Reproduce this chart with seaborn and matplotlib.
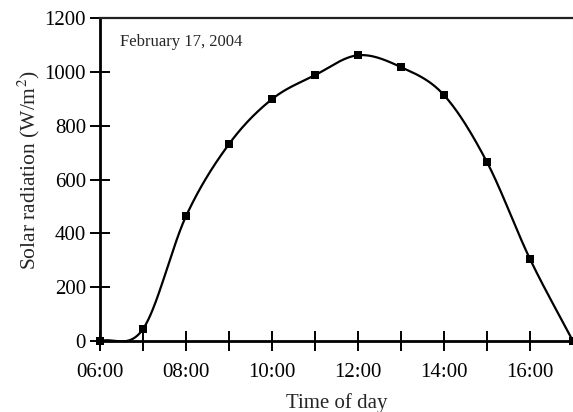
import numpy as np
import pandas as pd
import matplotlib
matplotlib.use("Agg")
import matplotlib.pyplot as plt
import seaborn as sns

# Data
hours = [6, 7, 8, 9, 10, 11, 12, 13, 14, 15, 16, 17]
radiation = [0, 45, 464, 732, 899, 988, 1062, 1018, 914, 665, 305, 0]
tick_hours = [6, 8, 10, 12, 14, 16]
tick_labels = ["06:00", "08:00", "10:00", "12:00", "14:00", "16:00"]

sns.set_theme(style="ticks")
plt.rcParams['font.family'] = ['Liberation Serif', 'DejaVu Serif']
plt.rcParams['mathtext.fontset'] = 'stix'


def smooth_curve(x, y, n=40):
    """Catmull-Rom style smoothing (like a spreadsheet 'smoothed line')."""
    x = np.asarray(x, float)
    y = np.asarray(y, float)
    m = np.zeros_like(y)
    m[1:-1] = (y[2:] - y[:-2]) / (x[2:] - x[:-2])
    m[0] = (y[1] - y[0]) / (x[1] - x[0])
    m[-1] = (y[-1] - y[-2]) / (x[-1] - x[-2])
    xs, ys = [], []
    for i in range(len(x) - 1):
        h = x[i + 1] - x[i]
        t = np.linspace(0, 1, n, endpoint=(i == len(x) - 2))
        h00 = 2 * t**3 - 3 * t**2 + 1
        h10 = t**3 - 2 * t**2 + t
        h01 = -2 * t**3 + 3 * t**2
        h11 = t**3 - t**2
        xs.append(x[i] + t * h)
        ys.append(h00 * y[i] + h10 * h * m[i] + h01 * y[i + 1] + h11 * h * m[i + 1])
    return np.concatenate(xs), np.concatenate(ys)


sx, sy = smooth_curve(hours, radiation)
curve = pd.DataFrame({"hour": sx, "rad": sy})
points = pd.DataFrame({"hour": hours, "rad": radiation})

fig = plt.figure(figsize=(5.73, 4.12), dpi=100)
ax = fig.add_axes([0.1745, 0.172, 0.8255, 0.784])

sns.lineplot(data=curve, x="hour", y="rad", ax=ax, color="black", linewidth=1.6,
             sort=False, estimator=None)
sns.scatterplot(data=points, x="hour", y="rad", ax=ax, marker="s", s=30,
                color="black", edgecolor="black", linewidth=0, clip_on=False, zorder=5)

ax.set_xlim(6, 17)
ax.set_ylim(0, 1200)
ax.set_xticks(hours[:-1])
ax.set_xticklabels([tick_labels[tick_hours.index(h)] if h in tick_hours else "" for h in hours[:-1]])
ax.set_yticks([0, 200, 400, 600, 800, 1000, 1200])

ax.tick_params(axis="both", direction="inout", length=14, width=1.4, colors="black",
               labelsize=15, pad=3)
ax.tick_params(axis="x", pad=9)

for side in ["left", "bottom"]:
    ax.spines[side].set_linewidth(2)
    ax.spines[side].set_color("black")
ax.spines["top"].set_linewidth(1.6)
ax.spines["top"].set_color("#222222")
ax.spines["right"].set_linewidth(0.8)
ax.spines["right"].set_color("#bbbbbb")

ax.set_xlabel("Time of day", fontsize=15, labelpad=8)
ax.set_ylabel("Solar radiation (W/m$^2$)", fontsize=15.5)
ax.yaxis.set_label_coords(-0.122, 0.53)

ax.text(0.043, 0.925, "February 17, 2004", transform=ax.transAxes, fontsize=12,
        ha="left", va="center")

fig.savefig("out.png", dpi=100)
